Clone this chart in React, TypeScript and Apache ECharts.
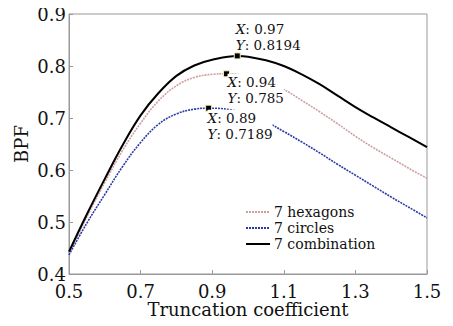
import React, { useEffect, useRef } from "react";
import * as echarts from "echarts";

const xTicks = [0.5, 0.7, 0.9, 1.1, 1.3, 1.5];
const yTicks = [0.4, 0.5, 0.6, 0.7, 0.8, 0.9];

const seriesNames = ["7 hexagons", "7 circles", "7 combination"];

const hexX = [0.5, 0.55, 0.6, 0.65, 0.7, 0.75, 0.8, 0.85, 0.9, 0.94, 1.0, 1.05, 1.1, 1.15, 1.2, 1.25, 1.3, 1.35, 1.4, 1.45, 1.5];
const hexY = [0.44, 0.51, 0.576, 0.638, 0.69, 0.733, 0.762, 0.778, 0.784, 0.785, 0.781, 0.771, 0.755, 0.734, 0.712, 0.689, 0.665, 0.643, 0.623, 0.603, 0.584];

const cirX = [0.5, 0.55, 0.6, 0.65, 0.7, 0.75, 0.8, 0.85, 0.89, 0.95, 1.0, 1.05, 1.1, 1.15, 1.2, 1.25, 1.3, 1.35, 1.4, 1.45, 1.5];
const cirY = [0.437, 0.498, 0.553, 0.607, 0.653, 0.688, 0.708, 0.717, 0.7189, 0.716, 0.707, 0.693, 0.674, 0.654, 0.633, 0.611, 0.59, 0.569, 0.548, 0.528, 0.508];

const comX = [0.5, 0.55, 0.6, 0.65, 0.7, 0.75, 0.8, 0.85, 0.9, 0.97, 1.0, 1.05, 1.1, 1.15, 1.2, 1.25, 1.3, 1.35, 1.4, 1.45, 1.5];
const comY = [0.443, 0.515, 0.583, 0.648, 0.705, 0.748, 0.781, 0.801, 0.812, 0.8194, 0.818, 0.811, 0.8, 0.784, 0.765, 0.743, 0.721, 0.701, 0.682, 0.663, 0.644];

const peaks = [
  { x: 0.94, y: 0.785, pos: [4.5, 3.5] },
  { x: 0.89, y: 0.7189, pos: [2.5, 5] },
  { x: 0.97, y: 0.8194, pos: [2, -31.5] },
];

const FONT = "DejaVu Serif";

export default function App() {
  const ref = useRef<HTMLDivElement>(null);
  useEffect(() => {
    if (!ref.current) return;
    const chart = echarts.init(ref.current, null, { renderer: "svg" });
    const pair = (xs: number[], ys: number[]) => xs.map((x, i) => [x, ys[i]]);
    const mk = (i: number) => ({
      symbol: "rect",
      symbolSize: 6,
      itemStyle: { color: "#000", borderColor: "#f3eec0", borderWidth: 1 },
      label: {
        show: true,
        position: peaks[i].pos,
        align: "left",
        verticalAlign: "top",
        backgroundColor: i === 2 ? "transparent" : "#fff",
        formatter: () => `{i|X}: ${peaks[i].x}\n{i|Y}: ${peaks[i].y}`,
        fontFamily: FONT,
        fontSize: 13.5,
        lineHeight: 16,
        color: "#111",
        rich: { i: { fontStyle: "italic", fontFamily: FONT, fontSize: 13.5, lineHeight: 16, color: "#111" } },
      },
      data: [{ coord: [peaks[i].x, peaks[i].y] }],
    });
    const colors = ["#cfa0a0", "#2b3aa6", "#000000"];
    const data = [pair(hexX, hexY), pair(cirX, cirY), pair(comX, comY)];
    const types: any[] = [[2, 1], [2, 1], "solid"];
    const widths = [1.6, 1.6, 2];
    chart.setOption({
      animation: false,
      backgroundColor: "#fff",
      grid: { left: 69, right: 26, top: 14, bottom: 52, show: true, borderColor: "#999", borderWidth: 1 },
      legend: {
        orient: "vertical",
        left: 245,
        top: 205,
        padding: 0,
        itemWidth: 24,
        itemHeight: 10,
        itemGap: 2,
        itemStyle: { opacity: 0 },
        textStyle: { fontFamily: FONT, fontSize: 14, lineHeight: 13, color: "#111", padding: [0, 0, 0, -1] },
        data: seriesNames,
      },
      xAxis: {
        type: "value",
        min: 0.5,
        max: 1.5,
        interval: 0.2,
        name: "Truncation coefficient",
        nameLocation: "middle",
        nameGap: 27,
        nameMoveOverlap: false,
        nameTextStyle: { fontFamily: FONT, fontSize: 18, lineHeight: 16, color: "#111" },
        axisLine: { show: true, lineStyle: { color: "#999" } },
        axisTick: { show: true, inside: true, length: 4, lineStyle: { color: "#999" } },
        splitLine: { show: false },
        axisLabel: { fontFamily: FONT, fontSize: 18, lineHeight: 14, color: "#111", margin: 10, formatter: (v: number) => v.toFixed(1) },
      },
      yAxis: {
        type: "value",
        min: 0.4,
        max: 0.9,
        interval: 0.1,
        name: "BPF",
        nameLocation: "middle",
        nameGap: 39,
        nameMoveOverlap: false,
        nameTextStyle: { fontFamily: FONT, fontSize: 18, color: "#111" },
        axisLine: { show: true, lineStyle: { color: "#999" } },
        axisTick: { show: true, inside: true, length: 4, lineStyle: { color: "#999" } },
        splitLine: { show: false },
        axisLabel: { fontFamily: FONT, fontSize: 18, color: "#111", margin: 3, formatter: (v: number) => v.toFixed(1) },
      },
      series: seriesNames.map((n, i) => ({
        name: n,
        type: "line",
        smooth: 0.4,
        symbol: "none",
        color: colors[i],
        lineStyle: { color: colors[i], width: widths[i], type: types[i] },
        data: data[i],
        z: i === 2 ? 3 : 2,
        markPoint: mk(i),
      })),
    });
    return () => chart.dispose();
  }, []);
  return <div ref={ref} style={{ width: 453, height: 326, margin: -8 }} />;
}
